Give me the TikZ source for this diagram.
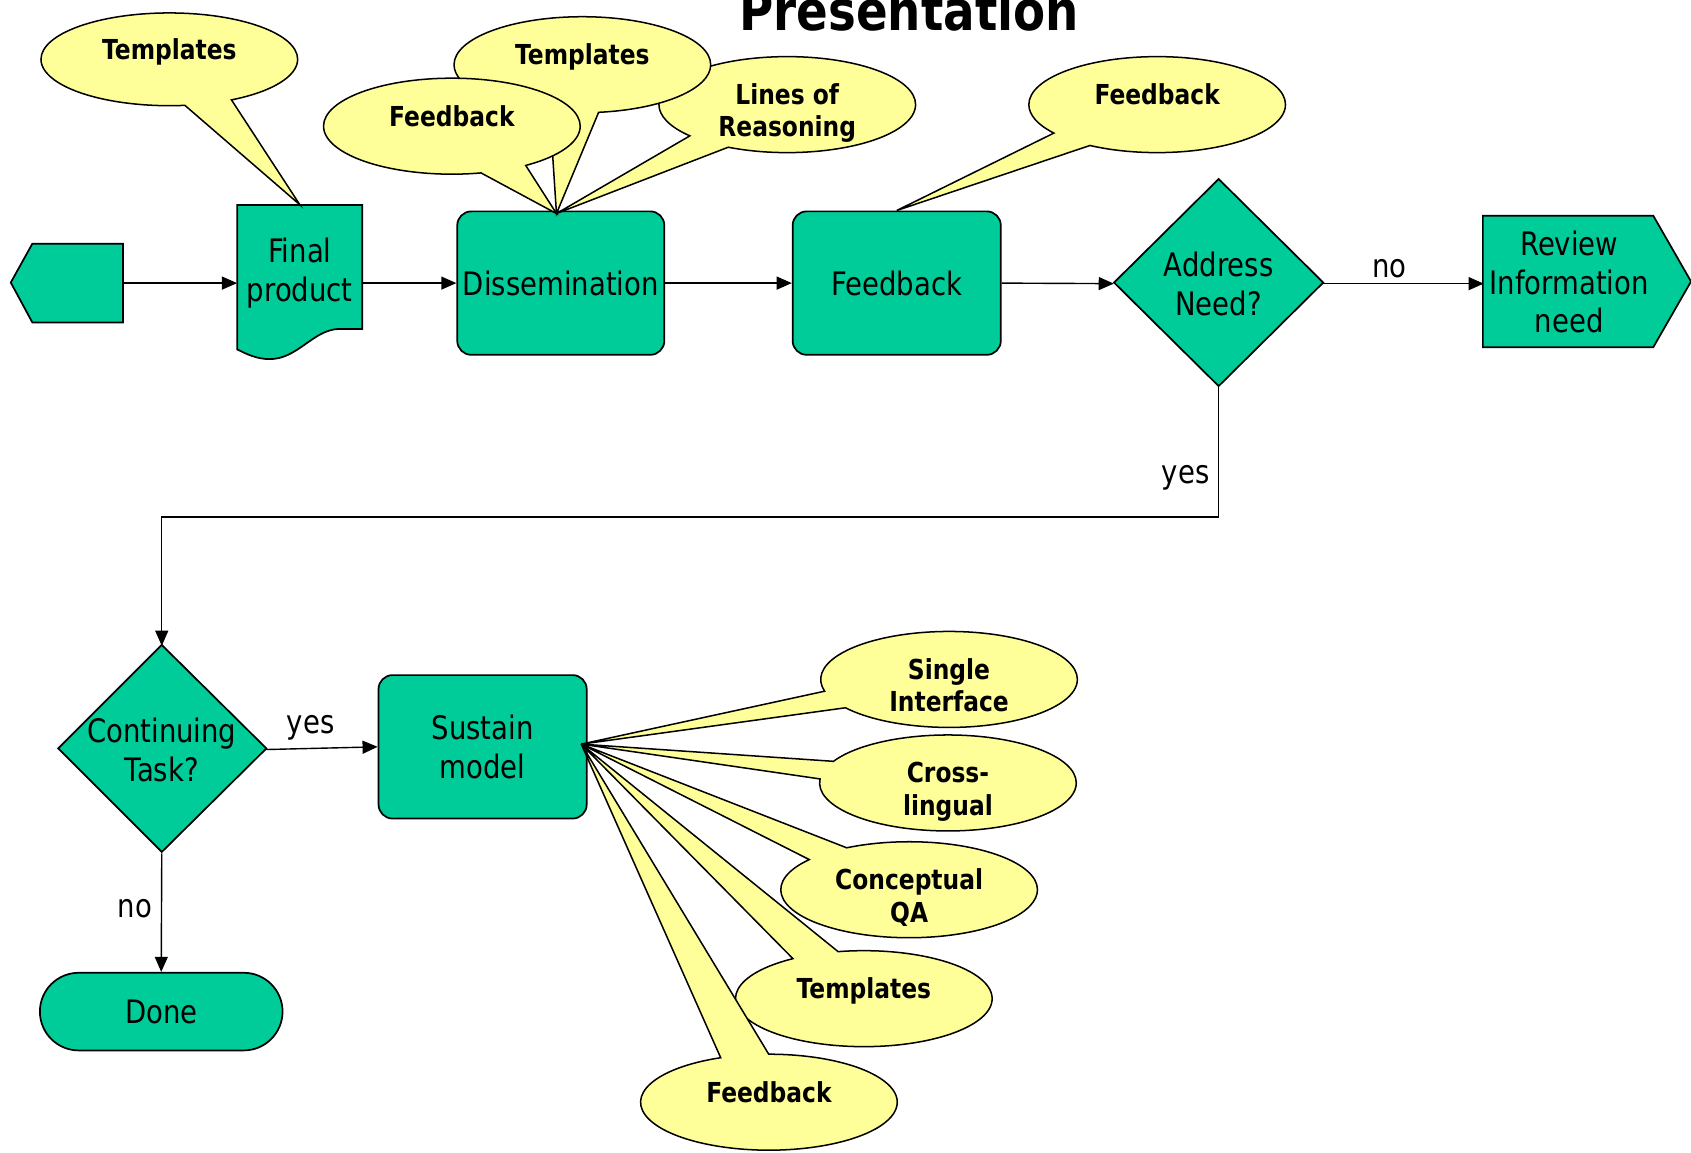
\documentclass[tikz,border=0pt]{standalone}
\usepackage{fontspec}
\setmainfont{DejaVu Sans}[FakeStretch=0.85]
\usetikzlibrary{shapes.callouts,arrows.meta}
\definecolor{flowgreen}{HTML}{00CC99}
\definecolor{callyellow}{HTML}{FFFF99}
\newcommand\cotext[1]{\raisebox{0pt}[0pt][0pt]{\begin{tabular}[t]{@{}c@{}}#1\end{tabular}}}
\begin{document}
\begin{tikzpicture}[x=1pt,y=-1pt,
  shapeline/.style={draw=black, line width=1.6pt, fill=flowgreen, line join=miter},
  box/.style={shapeline, rounded corners=13pt, inner sep=0pt},
  txt/.style={font=\fontsize{30}{36}\selectfont, align=center, inner sep=0pt},
  co/.style={ellipse callout, draw=black, line width=1.4pt, fill=callyellow,
     minimum width=238pt, minimum height=89pt, inner sep=0pt, callout pointer arc=22,
     font=\bfseries\fontsize{25.5}{30}\selectfont},
  arr/.style={line width=1.3pt, -{Triangle[length=14pt,width=12pt]}},
  lab/.style={font=\fontsize{30}{36}\selectfont, inner sep=0pt}]
\useasboundingbox (0,0) rectangle (1568,1069);
\fill[white] (0,0) rectangle (1568,1069);

% title
\node[anchor=base, inner sep=0pt, font=\bfseries\fontsize{51}{60}\selectfont] (title) at (843,28) {Presentation};

% shapes drawn directly
\draw[shapeline] (10,262) -- (30,226) -- (114,226) -- (114,299) -- (30,299) -- cycle;
\draw[shapeline] (220,190) -- (336,190) -- (336,305) -- (314,305)
   .. controls (290,306) and (276,333) .. (250,333)
   .. controls (238,333) and (228,328) .. (220,324) -- cycle;
\draw[shapeline] (1130,166) -- (1227,262) -- (1130,358) -- (1033,262) -- cycle;
\draw[shapeline] (1375,200) -- (1533,200) -- (1568,261) -- (1533,322) -- (1375,322) -- cycle;
\draw[shapeline] (150,598) -- (247,694) -- (150,790) -- (54,694) -- cycle;

% nodes
\node[minimum width=104pt, minimum height=73pt, inner sep=0pt] (start) at (62,262.5) {};
\node[txt, minimum width=116pt, minimum height=115pt] (fp) at (278,247.5) {};
\node[txt] (fptext) at (278,253) {Final\\product};
\node[box, txt, minimum width=192pt, minimum height=133pt] (diss) at (520,262.5) {Dissemination};
\node[box, txt, minimum width=193pt, minimum height=133pt] (fbb) at (831.5,262.5) {Feedback};
\node[txt, minimum width=194pt, minimum height=192pt] (addr) at (1130,263) {Address\\Need?};
\node[txt, minimum width=158pt, minimum height=122pt] (rev) at (1455,261.5) {Review\\Information\\need};
\node[txt, minimum width=193pt, minimum height=192pt] (cont) at (150,695) {Continuing\\Task?};
\node[box, txt, minimum width=193pt, minimum height=133pt] (sm) at (447.5,692.5) {Sustain\\model};
\node[box, txt, rounded corners=36pt, minimum width=225pt, minimum height=72pt] (done) at (149.5,938) {Done};

% connectors
\draw[arr] (start.east) -- (start.east -| fp.west);
\draw[arr] (diss.west -| fp.east) -- (diss.west);
\draw[arr] (diss.east) -- (fbb.west);
\draw[arr] (fbb.east) -- (addr.west);
\draw[arr] (addr.east) -- node[lab, pos=0.41, above=5pt] {no} (rev.west |- addr.east);
\draw[arr] (addr.south) -- node[lab, pos=0.7, left=8pt] {yes} ++(0,120) -| (cont.north);
\draw[arr] (cont.east) -- node[lab, pos=0.4, above=7pt] {yes} (sm.west);
\draw[arr] (cont.south) -- node[lab, pos=0.47, left=8pt] {no} (done.north);

% callout tips
\coordinate (tipD) at (516,198);
\coordinate (tipS) at (539,690);

% callouts
\node[co, minimum height=86pt, callout absolute pointer={(fp.north)}] (c1) at (157,55) {\cotext{Templates}};
\node[co, callout absolute pointer={(tipD)}] (c2) at (730,97) {\cotext{Lines of\\Reasoning}};
\node[co, callout absolute pointer={(tipD)}] (c3) at (540,60) {\cotext{Templates}};
\node[co, callout absolute pointer={(tipD)}] (c4) at (419,117) {\cotext{Feedback}};
\node[co, callout absolute pointer={(fbb.north)}] (c5) at (1073,97) {\cotext{Feedback}};

\node[co, callout absolute pointer={(tipS)}] (c6) at (880,630) {\cotext{Single\\Interface}};
\node[co, callout absolute pointer={(tipS)}] (c7) at (879,726) {\cotext{Cross-\\lingual}};
\node[co, callout absolute pointer={(tipS)}] (c8) at (843,825) {\cotext{Conceptual\\QA}};
\node[co, callout absolute pointer={(tipS)}] (c9) at (801,926) {\cotext{Templates}};
\node[co, callout absolute pointer={(tipS)}] (c10) at (713,1022) {\cotext{Feedback}};
\end{tikzpicture}
\end{document}
